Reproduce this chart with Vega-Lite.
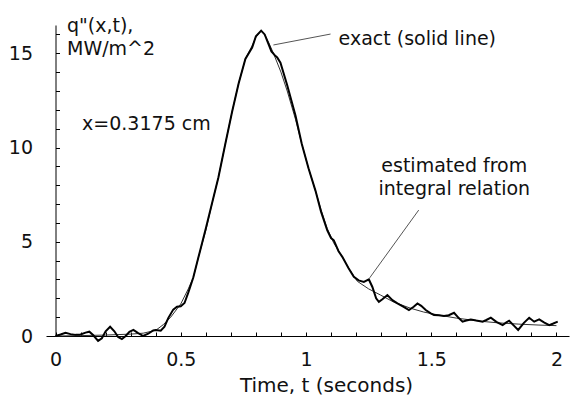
{
  "$schema": "https://vega.github.io/schema/vega-lite/v6.json",
  "width": 523,
  "height": 311,
  "autosize": {"type": "none"},
  "padding": {"left": 46, "top": 25, "right": 2, "bottom": 64},
  "background": "white",
  "config": {
    "view": {"stroke": null},
    "font": "DejaVu Sans",
    "axis": {"grid": false, "domainColor": "#000", "tickColor": "#000", "labelColor": "#111", "titleColor": "#111", "labelFont": "DejaVu Sans", "titleFont": "DejaVu Sans", "labelFontSize": 19, "titleFontSize": 20, "titleFontWeight": "normal", "domainWidth": 1, "tickWidth": 1}
  },
  "datasets": {
    "estimated": [
      {"t": 0.0, "q": 0.0}, {"t": 0.02, "q": 0.08}, {"t": 0.04, "q": 0.17}, {"t": 0.06, "q": 0.1},
      {"t": 0.08, "q": 0.06}, {"t": 0.1, "q": 0.08}, {"t": 0.12, "q": 0.18}, {"t": 0.135, "q": 0.23},
      {"t": 0.15, "q": 0.05}, {"t": 0.17, "q": -0.26}, {"t": 0.185, "q": -0.12}, {"t": 0.2, "q": 0.25},
      {"t": 0.218, "q": 0.49}, {"t": 0.235, "q": 0.25}, {"t": 0.25, "q": -0.05}, {"t": 0.265, "q": -0.16},
      {"t": 0.28, "q": 0.0}, {"t": 0.295, "q": 0.22}, {"t": 0.311, "q": 0.32}, {"t": 0.33, "q": 0.15},
      {"t": 0.35, "q": 0.0}, {"t": 0.37, "q": 0.12}, {"t": 0.39, "q": 0.3}, {"t": 0.4, "q": 0.32},
      {"t": 0.42, "q": 0.28}, {"t": 0.435, "q": 0.5}, {"t": 0.45, "q": 0.95}, {"t": 0.47, "q": 1.4},
      {"t": 0.485, "q": 1.55}, {"t": 0.5, "q": 1.58}, {"t": 0.515, "q": 1.75}, {"t": 0.53, "q": 2.3},
      {"t": 0.55, "q": 3.1}, {"t": 0.571, "q": 4.2}, {"t": 0.6, "q": 5.7}, {"t": 0.631, "q": 7.37},
      {"t": 0.65, "q": 8.4}, {"t": 0.678, "q": 10.2}, {"t": 0.705, "q": 11.9}, {"t": 0.731, "q": 13.4},
      {"t": 0.758, "q": 14.7}, {"t": 0.785, "q": 15.3}, {"t": 0.8, "q": 15.9}, {"t": 0.821, "q": 16.2},
      {"t": 0.835, "q": 16.0}, {"t": 0.85, "q": 15.5}, {"t": 0.862, "q": 15.1}, {"t": 0.875, "q": 14.9},
      {"t": 0.885, "q": 14.78}, {"t": 0.898, "q": 14.5}, {"t": 0.925, "q": 13.3}, {"t": 0.958, "q": 11.7},
      {"t": 0.983, "q": 10.2}, {"t": 1.01, "q": 8.9}, {"t": 1.038, "q": 7.7}, {"t": 1.06, "q": 6.6},
      {"t": 1.085, "q": 5.6}, {"t": 1.1, "q": 5.2}, {"t": 1.111, "q": 5.08}, {"t": 1.13, "q": 4.5},
      {"t": 1.145, "q": 4.2}, {"t": 1.17, "q": 3.6}, {"t": 1.191, "q": 3.14}, {"t": 1.21, "q": 2.95},
      {"t": 1.231, "q": 2.87}, {"t": 1.251, "q": 3.0}, {"t": 1.265, "q": 2.6}, {"t": 1.28, "q": 2.0},
      {"t": 1.291, "q": 1.81}, {"t": 1.305, "q": 1.95}, {"t": 1.325, "q": 2.17}, {"t": 1.345, "q": 1.9},
      {"t": 1.365, "q": 1.73}, {"t": 1.39, "q": 1.55}, {"t": 1.411, "q": 1.38}, {"t": 1.43, "q": 1.55},
      {"t": 1.445, "q": 1.73}, {"t": 1.46, "q": 1.6}, {"t": 1.478, "q": 1.38}, {"t": 1.498, "q": 1.2},
      {"t": 1.511, "q": 1.11}, {"t": 1.53, "q": 1.1}, {"t": 1.551, "q": 1.06}, {"t": 1.57, "q": 1.1},
      {"t": 1.591, "q": 1.23}, {"t": 1.61, "q": 0.95}, {"t": 1.625, "q": 0.76}, {"t": 1.64, "q": 0.82},
      {"t": 1.658, "q": 0.88}, {"t": 1.68, "q": 0.82}, {"t": 1.705, "q": 0.76}, {"t": 1.72, "q": 0.85},
      {"t": 1.738, "q": 0.97}, {"t": 1.76, "q": 0.75}, {"t": 1.785, "q": 0.58}, {"t": 1.8, "q": 0.72},
      {"t": 1.811, "q": 0.81}, {"t": 1.83, "q": 0.55}, {"t": 1.847, "q": 0.32}, {"t": 1.87, "q": 0.7},
      {"t": 1.891, "q": 0.97}, {"t": 1.911, "q": 0.76}, {"t": 1.931, "q": 0.88}, {"t": 1.95, "q": 0.72},
      {"t": 1.971, "q": 0.58}, {"t": 1.985, "q": 0.65}, {"t": 2.005, "q": 0.76}
    ],
    "exact": [
      {"t": 0.0, "q": 0.0}, {"t": 0.1, "q": 0.02}, {"t": 0.2, "q": 0.05}, {"t": 0.3, "q": 0.1},
      {"t": 0.35, "q": 0.15}, {"t": 0.4, "q": 0.3}, {"t": 0.43, "q": 0.6}, {"t": 0.46, "q": 1.0},
      {"t": 0.5, "q": 1.7}, {"t": 0.53, "q": 2.5}, {"t": 0.55, "q": 3.1}, {"t": 0.571, "q": 4.2},
      {"t": 0.6, "q": 5.6}, {"t": 0.631, "q": 7.37}, {"t": 0.65, "q": 8.4}, {"t": 0.678, "q": 10.2},
      {"t": 0.705, "q": 11.9}, {"t": 0.731, "q": 13.4}, {"t": 0.758, "q": 14.7}, {"t": 0.785, "q": 15.4},
      {"t": 0.8, "q": 15.85}, {"t": 0.821, "q": 16.2}, {"t": 0.835, "q": 16.0}, {"t": 0.851, "q": 15.57},
      {"t": 0.87, "q": 15.0}, {"t": 0.9, "q": 14.0}, {"t": 0.925, "q": 13.0}, {"t": 0.958, "q": 11.5},
      {"t": 0.983, "q": 10.2}, {"t": 1.01, "q": 8.9}, {"t": 1.038, "q": 7.7}, {"t": 1.06, "q": 6.7},
      {"t": 1.085, "q": 5.7}, {"t": 1.11, "q": 4.95}, {"t": 1.145, "q": 4.2}, {"t": 1.17, "q": 3.6},
      {"t": 1.205, "q": 2.9}, {"t": 1.25, "q": 2.5}, {"t": 1.298, "q": 2.17}, {"t": 1.35, "q": 1.8},
      {"t": 1.418, "q": 1.47}, {"t": 1.47, "q": 1.27}, {"t": 1.53, "q": 1.11}, {"t": 1.6, "q": 0.95},
      {"t": 1.7, "q": 0.78}, {"t": 1.765, "q": 0.7}, {"t": 1.85, "q": 0.63}, {"t": 1.93, "q": 0.58},
      {"t": 2.0, "q": 0.55}
    ],
    "leaders": [
      {"t1": 0.87, "q1": 15.44, "t2": 1.098, "q2": 16.02},
      {"t1": 1.45, "q1": 6.68, "t2": 1.254, "q2": 3.08}
    ],
    "leftlabels": [
      {"t": 1.13, "q": 15.44, "text": "exact (solid line)"},
      {"t": 0.106, "q": 10.93, "text": "x=0.3175 cm"}
    ],
    "centerlabels": [
      {"t": 1.592, "q": 8.7, "text": "estimated from"},
      {"t": 1.592, "q": 7.48, "text": "integral relation"}
    ]
  },
  "layer": [
    {
      "data": {"name": "exact"},
      "mark": {"type": "line", "color": "#333", "strokeWidth": 1, "clip": false},
      "encoding": {
        "x": {"field": "t", "type": "quantitative", "scale": {"domain": [-0.038, 2.05], "nice": false, "zero": false},
          "axis": {"title": "Time, t (seconds)", "values": [0, 0.1, 0.2, 0.3, 0.4, 0.5, 0.6, 0.7, 0.8, 0.9, 1, 1.1, 1.2, 1.3, 1.4, 1.5, 1.6, 1.7, 1.8, 1.9, 2],
            "tickCount": 200,
            "format": "~g", "labelExpr": "abs(datum.value*2 - round(datum.value*2)) < 0.001 ? datum.label : ''",
            "labelOverlap": false, "labelFlush": false, "tickSize": -4, "labelPadding": 18,
            "titleX": 280, "titleY": 55, "titleBaseline": "alphabetic", "titleAnchor": "middle", "titleAlign": "center"}},
        "y": {"field": "q", "type": "quantitative", "scale": {"domain": [0, 16.5], "nice": false, "zero": false},
          "axis": {"title": ["q\"(x,t),", "MW/m^2"], "values": [0, 1, 2, 3, 4, 5, 6, 7, 8, 9, 10, 11, 12, 13, 14, 15, 16],
            "tickCount": 200, "format": "d",
            "labelExpr": "datum.value % 5 === 0 ? datum.label : ''", "labelOverlap": false, "labelFlush": false,
            "tickSize": -4, "labelPadding": 27, "offset": -9.5,
            "titleAngle": 0, "titleAlign": "left", "titleBaseline": "top", "titleX": 11, "titleY": -9, "titleLineHeight": 23, "titleFontSize": 19}}
      }
    },
    {
      "data": {"name": "estimated"},
      "mark": {"type": "line", "color": "#000", "strokeWidth": 2, "clip": false},
      "encoding": {
        "x": {"field": "t", "type": "quantitative"},
        "y": {"field": "q", "type": "quantitative"}
      }
    },
    {
      "data": {"name": "leaders"},
      "mark": {"type": "rule", "color": "#555", "strokeWidth": 1},
      "encoding": {
        "x": {"field": "t1", "type": "quantitative"},
        "y": {"field": "q1", "type": "quantitative"},
        "x2": {"field": "t2"},
        "y2": {"field": "q2"}
      }
    },
    {
      "data": {"name": "leftlabels"},
      "mark": {"type": "text", "fontSize": 19, "font": "DejaVu Sans", "color": "#111", "baseline": "alphabetic", "align": "left"},
      "encoding": {
        "x": {"field": "t", "type": "quantitative"},
        "y": {"field": "q", "type": "quantitative"},
        "text": {"field": "text"}
      }
    },
    {
      "data": {"name": "centerlabels"},
      "mark": {"type": "text", "fontSize": 19, "font": "DejaVu Sans", "color": "#111", "baseline": "alphabetic", "align": "center"},
      "encoding": {
        "x": {"field": "t", "type": "quantitative"},
        "y": {"field": "q", "type": "quantitative"},
        "text": {"field": "text"}
      }
    }
  ]
}
